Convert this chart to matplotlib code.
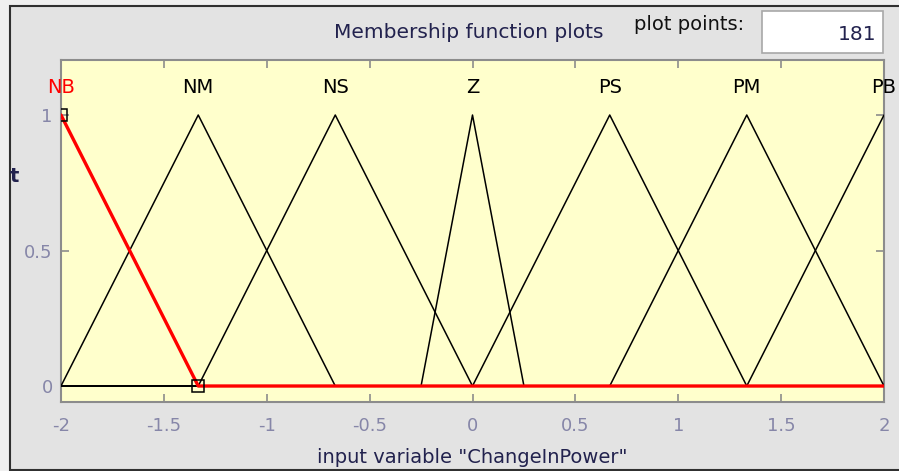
import matplotlib
matplotlib.use("Agg")
import matplotlib.pyplot as plt
from matplotlib.patches import Rectangle

# ---- data ----
mf_names = ["NB", "NM", "NS", "Z", "PS", "PM", "PB"]
mf_a = [-2.667, -2.0, -1.333, -0.25, 0.0, 0.667, 1.333]
mf_b = [-2.0, -1.333, -0.667, 0.0, 0.667, 1.333, 2.0]
mf_c = [-1.333, -0.667, 0.0, 0.25, 1.333, 2.0, 2.667]
selected = "NB"
x_range = [-2, 2]
x_ticks = [-2, -1.5, -1, -0.5, 0, 0.5, 1, 1.5, 2]
x_tick_labels = ["-2", "-1.5", "-1", "-0.5", "0", "0.5", "1", "1.5", "2"]
y_ticks = [0, 0.5, 1]
y_tick_labels = ["0", "0.5", "1"]
plot_points = 181
var_name = "ChangeInPower"

plt.rcParams["font.family"] = ["DejaVu Sans"]
W, H = 899, 471
fig = plt.figure(figsize=(W / 100, H / 100), dpi=100)
fig.patch.set_facecolor("#f0f0f0")

def fx(px):
    return px / W

def fy(py):
    return 1 - py / H

# outer panel
panel = Rectangle((fx(10), fy(470)), fx(899 + 20) - fx(10), fy(6) - fy(470),
                  transform=fig.transFigure, facecolor="#e3e3e3",
                  edgecolor="#303030", linewidth=1.5, zorder=-5)
fig.patches.append(panel)

# edit box
box = Rectangle((fx(762), fy(53)), fx(883) - fx(762), fy(11) - fy(53),
                transform=fig.transFigure, facecolor="white",
                edgecolor="#a8a8a8", linewidth=1.2, zorder=-4)
fig.patches.append(box)

navy = "#22224e"
fig.text(fx(469), fy(32), "Membership function plots", ha="center", va="center",
         fontsize=14.5, color=navy)
fig.text(fx(689), fy(25), "plot points:", ha="center", va="center",
         fontsize=14, color="#111111")
fig.text(fx(876), fy(34), str(plot_points), ha="right", va="center",
         fontsize=14.5, color=navy)
fig.text(fx(14.5), fy(177), "t", ha="center", va="center", fontsize=14,
         color=navy, fontweight="bold")

ax = fig.add_axes([fx(61), fy(402), fx(884) - fx(61), fy(60) - fy(402)])
ax.set_facecolor("#ffffcc")
ax.set_xlim(x_range)
ax.set_ylim(-0.059, 1.203)

for name, a, b, c in zip(mf_names, mf_a, mf_b, mf_c):
    xs = [min(a, x_range[0]), a, b, c, max(c, x_range[1])]
    ys = [0, 0, 1, 0, 0]
    if name == selected:
        ax.plot(xs, ys, color="#ff0000", lw=2.4, zorder=4, solid_capstyle="butt")
    else:
        ax.plot(xs, ys, color="black", lw=1.1, zorder=3)
    col = "#ff0000" if name == selected else "black"
    ax.text(b, 1.103, name, ha="center", va="center", fontsize=14, color=col,
            zorder=6, clip_on=False)

# black zero line under the red selection
ax.plot(x_range, [0, 0], color="black", lw=1.1, zorder=3.5)

# vertex markers of selected MF
i = mf_names.index(selected)
ax.plot([mf_b[i], mf_c[i]], [1, 0], ls="none", marker="s", ms=8,
        mfc="none", mec="black", mew=1.1, zorder=5)

ax.set_xticks(x_ticks)
ax.set_xticklabels(x_tick_labels)
ax.set_yticks(y_ticks)
ax.set_yticklabels(y_tick_labels)
grey = "#8c8c8c"
for s in ax.spines.values():
    s.set_color(grey)
    s.set_linewidth(1.5)
ax.tick_params(direction="in", length=6, width=1.2, color=grey,
               top=True, right=True, labelsize=13, labelcolor="#8686a8")
ax.tick_params(axis="x", pad=11)
ax.tick_params(axis="y", pad=6)
ax.set_xlabel('input variable "%s"' % var_name, fontsize=14, color=navy, labelpad=9)

fig.savefig("out.png", dpi=100, facecolor=fig.get_facecolor())
